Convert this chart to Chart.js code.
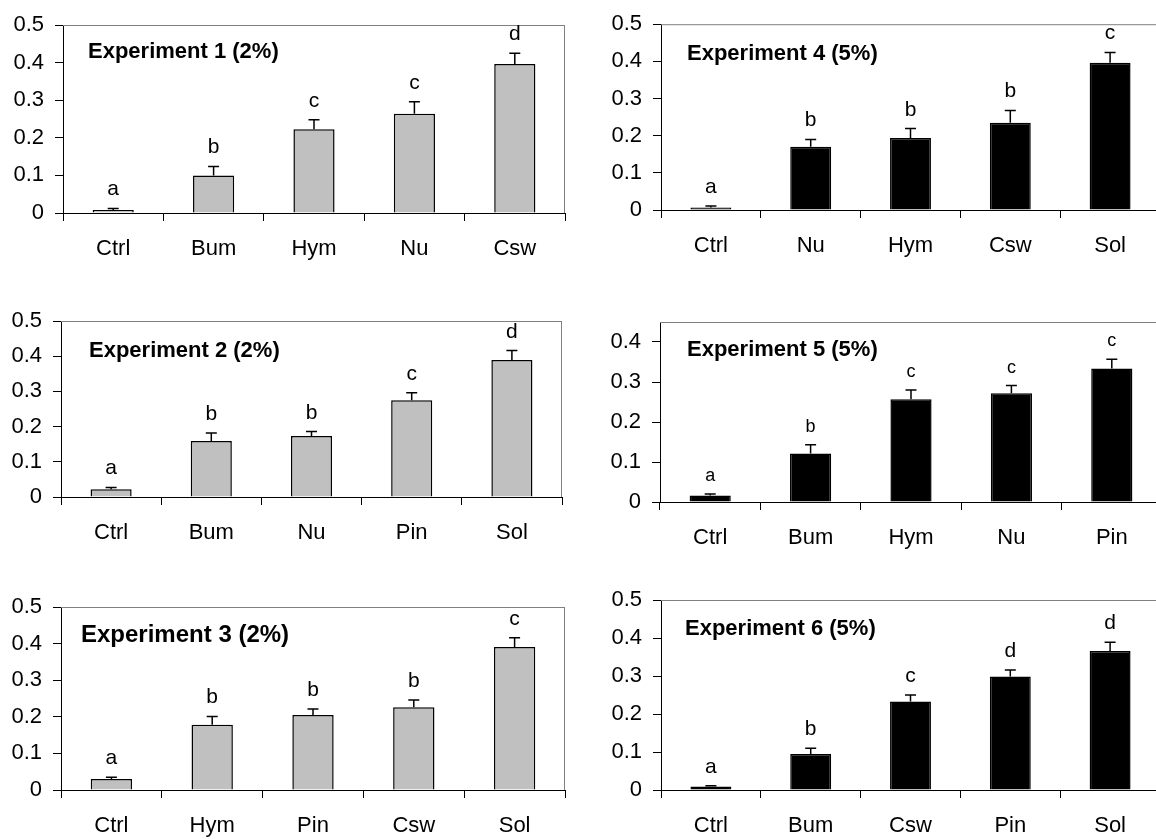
<!DOCTYPE html>
<html>
<head>
<meta charset="utf-8">
<script src="https://cdn.jsdelivr.net/npm/chart.js@4.4.1/dist/chart.umd.min.js"></script>
<style>
	html, body { margin: 0; padding: 0; background: #fff; overflow: hidden; }
	#wrap { position: relative; width: 1156px; height: 839px; }
	#wrap canvas { position: absolute; }
</style>
</head>
<body>
<div id="wrap"></div>
<script>
// values (mean, upper error, significance letter)
const exp1Labels = ['Ctrl', 'Bum', 'Hym', 'Nu', 'Csw'];
const exp1Means = [0.008, 0.100, 0.223, 0.264, 0.396];
const exp1Errors = [0.004, 0.024, 0.025, 0.032, 0.029];
const exp1Letters = ['a', 'b', 'c', 'c', 'd'];

const exp2Labels = ['Ctrl', 'Bum', 'Nu', 'Pin', 'Sol'];
const exp2Means = [0.022, 0.159, 0.173, 0.275, 0.389];
const exp2Errors = [0.005, 0.023, 0.013, 0.021, 0.027];
const exp2Letters = ['a', 'b', 'b', 'c', 'd'];

const exp3Labels = ['Ctrl', 'Hym', 'Pin', 'Csw', 'Sol'];
const exp3Means = [0.030, 0.178, 0.205, 0.226, 0.391];
const exp3Errors = [0.005, 0.023, 0.016, 0.020, 0.025];
const exp3Letters = ['a', 'b', 'b', 'b', 'c'];

const exp4Labels = ['Ctrl', 'Nu', 'Hym', 'Csw', 'Sol'];
const exp4Means = [0.007, 0.170, 0.194, 0.235, 0.396];
const exp4Errors = [0.004, 0.020, 0.025, 0.033, 0.028];
const exp4Letters = ['a', 'b', 'b', 'b', 'c'];

const exp5Labels = ['Ctrl', 'Bum', 'Hym', 'Nu', 'Pin'];
const exp5Means = [0.016, 0.121, 0.257, 0.272, 0.334];
const exp5Errors = [0.004, 0.022, 0.023, 0.019, 0.023];
const exp5Letters = ['a', 'b', 'c', 'c', 'c'];

const exp6Labels = ['Ctrl', 'Bum', 'Csw', 'Pin', 'Sol'];
const exp6Means = [0.009, 0.095, 0.233, 0.299, 0.366];
const exp6Errors = [0.002, 0.015, 0.017, 0.017, 0.023];
const exp6Letters = ['a', 'b', 'c', 'd', 'd'];

// y axis ticks
const yTicksFull = [0, 0.1, 0.2, 0.3, 0.4, 0.5];
const yTicksExp5 = [0, 0.1, 0.2, 0.3, 0.4];

const FONT = "'Liberation Sans', Arial, sans-serif";
const GREY_BAR = '#c0c0c0';

// layout of the six panels (page pixels)
const panels = [
	{ title: 'Experiment 1 (2%)', labels: exp1Labels, means: exp1Means, errors: exp1Errors, letters: exp1Letters,
		yMax: 0.5, yTicks: yTicksFull, fill: GREY_BAR,
		canvas: { x: 0, y: 0, w: 580, h: 280 }, plot: { left: 63, top: 25, right: 565, bottom: 213 },
		titlePos: { dx: 25, dy: 27, size: 22 }, letterSize: 21 },
	{ title: 'Experiment 2 (2%)', labels: exp2Labels, means: exp2Means, errors: exp2Errors, letters: exp2Letters,
		yMax: 0.5, yTicks: yTicksFull, fill: GREY_BAR,
		canvas: { x: 0, y: 280, w: 580, h: 280 }, plot: { left: 61, top: 321, right: 562, bottom: 497 },
		titlePos: { dx: 28, dy: 30, size: 22 }, letterSize: 21 },
	{ title: 'Experiment 3 (2%)', labels: exp3Labels, means: exp3Means, errors: exp3Errors, letters: exp3Letters,
		yMax: 0.5, yTicks: yTicksFull, fill: GREY_BAR,
		canvas: { x: 0, y: 560, w: 580, h: 279 }, plot: { left: 61, top: 607, right: 565, bottom: 790 },
		titlePos: { dx: 20, dy: 28, size: 24 }, letterSize: 21 },
	{ title: 'Experiment 4 (5%)', labels: exp4Labels, means: exp4Means, errors: exp4Errors, letters: exp4Letters,
		yMax: 0.5, yTicks: yTicksFull, fill: '#000',
		canvas: { x: 580, y: 0, w: 600, h: 280 }, plot: { left: 661, top: 22, right: 1160, bottom: 210 },
		titlePos: { dx: 26, dy: 30, size: 22 }, letterSize: 21 },
	{ title: 'Experiment 5 (5%)', labels: exp5Labels, means: exp5Means, errors: exp5Errors, letters: exp5Letters,
		yMax: 0.45, yTicks: yTicksExp5, fill: '#000',
		canvas: { x: 580, y: 280, w: 600, h: 280 }, plot: { left: 660, top: 322, right: 1162, bottom: 502 },
		titlePos: { dx: 27, dy: 28, size: 22 }, letterSize: 18 },
	{ title: 'Experiment 6 (5%)', labels: exp6Labels, means: exp6Means, errors: exp6Errors, letters: exp6Letters,
		yMax: 0.5, yTicks: yTicksFull, fill: '#000',
		canvas: { x: 580, y: 560, w: 600, h: 279 }, plot: { left: 661, top: 600, right: 1160, bottom: 790 },
		titlePos: { dx: 24, dy: 29, size: 22 }, letterSize: 21 }
];

document.addEventListener('DOMContentLoaded', () => {
	panels.forEach(makePanel);
});

// frame, error bars, letters and title
function decorPlugin(p) {
	return {
		id: 'decor',
		afterDatasetsDraw(chart) {
			const ctx = chart.ctx;
			const area = chart.chartArea;
			const yScale = chart.scales.y;
			const meta = chart.getDatasetMeta(0);

			ctx.save();
			// grey plot-area border, top and right
			ctx.strokeStyle = '#808080';
			ctx.lineWidth = 1;
			ctx.beginPath();
			ctx.moveTo(area.left, area.top + 0.5);
			ctx.lineTo(area.right, area.top + 0.5);
			ctx.moveTo(area.right - 0.5, area.top);
			ctx.lineTo(area.right - 0.5, area.bottom);
			ctx.stroke();

			// error bars (upper half only)
			ctx.strokeStyle = '#000';
			ctx.lineWidth = 1.5;
			meta.data.forEach((bar, i) => {
				const yBar = yScale.getPixelForValue(p.means[i]);
				const yTop = yScale.getPixelForValue(p.means[i] + p.errors[i]);
				ctx.beginPath();
				ctx.moveTo(bar.x, yBar);
				ctx.lineTo(bar.x, yTop);
				ctx.moveTo(bar.x - 5.5, yTop);
				ctx.lineTo(bar.x + 5.5, yTop);
				ctx.stroke();

				ctx.fillStyle = '#000';
				ctx.font = p.letterSize + 'px ' + FONT;
				ctx.textAlign = 'center';
				ctx.textBaseline = 'alphabetic';
				ctx.fillText(p.letters[i], bar.x, yTop - 13);
			});

			// panel title
			ctx.fillStyle = '#000';
			ctx.font = 'bold ' + p.titlePos.size + 'px ' + FONT;
			ctx.textAlign = 'left';
			ctx.textBaseline = 'middle';
			ctx.fillText(p.title, area.left + p.titlePos.dx, area.top + p.titlePos.dy);
			ctx.restore();
		}
	};
}

function makePanel(p) {
	const canvas = document.createElement('canvas');
	canvas.width = p.canvas.w;
	canvas.height = p.canvas.h;
	canvas.style.left = p.canvas.x + 'px';
	canvas.style.top = p.canvas.y + 'px';
	document.getElementById('wrap').appendChild(canvas);

	new Chart(canvas, {
		type: 'bar',
		data: {
			labels: p.labels,
			datasets: [{
				data: p.means,
				backgroundColor: p.fill,
				borderColor: '#000',
				borderWidth: 1.5,
				barPercentage: 0.41,
				categoryPercentage: 1
			}]
		},
		options: {
			responsive: false,
			animation: false,
			events: [],
			layout: {
				padding: {
					left: 0,
					bottom: 0,
					top: p.plot.top - p.canvas.y,
					right: p.canvas.w - (p.plot.right - p.canvas.x)
				}
			},
			plugins: {
				legend: { display: false },
				tooltip: { enabled: false }
			},
			scales: {
				x: {
					grid: { offset: true, drawOnChartArea: false, tickLength: 8, color: '#000', lineWidth: 1 },
					border: { color: '#000', width: 1 },
					ticks: { color: '#000', font: { family: FONT, size: 22 }, padding: 15, maxRotation: 0, autoSkip: false },
					afterFit: (scale) => { scale.height = p.canvas.y + p.canvas.h - p.plot.bottom; }
				},
				y: {
					min: 0,
					max: p.yMax,
					grid: { drawOnChartArea: false, tickLength: 8, color: '#000', lineWidth: 1 },
					border: { color: '#000', width: 1 },
					ticks: {
						color: '#000',
						font: { family: FONT, size: 22 },
						padding: 11,
						callback: (v) => (v === 0 ? '0' : v.toFixed(1))
					},
					afterBuildTicks: (scale) => { scale.ticks = p.yTicks.map(v => ({ value: v })); },
					afterFit: (scale) => { scale.width = p.plot.left - p.canvas.x; }
				}
			}
		},
		plugins: [decorPlugin(p)]
	});
}
</script>
</body>
</html>
